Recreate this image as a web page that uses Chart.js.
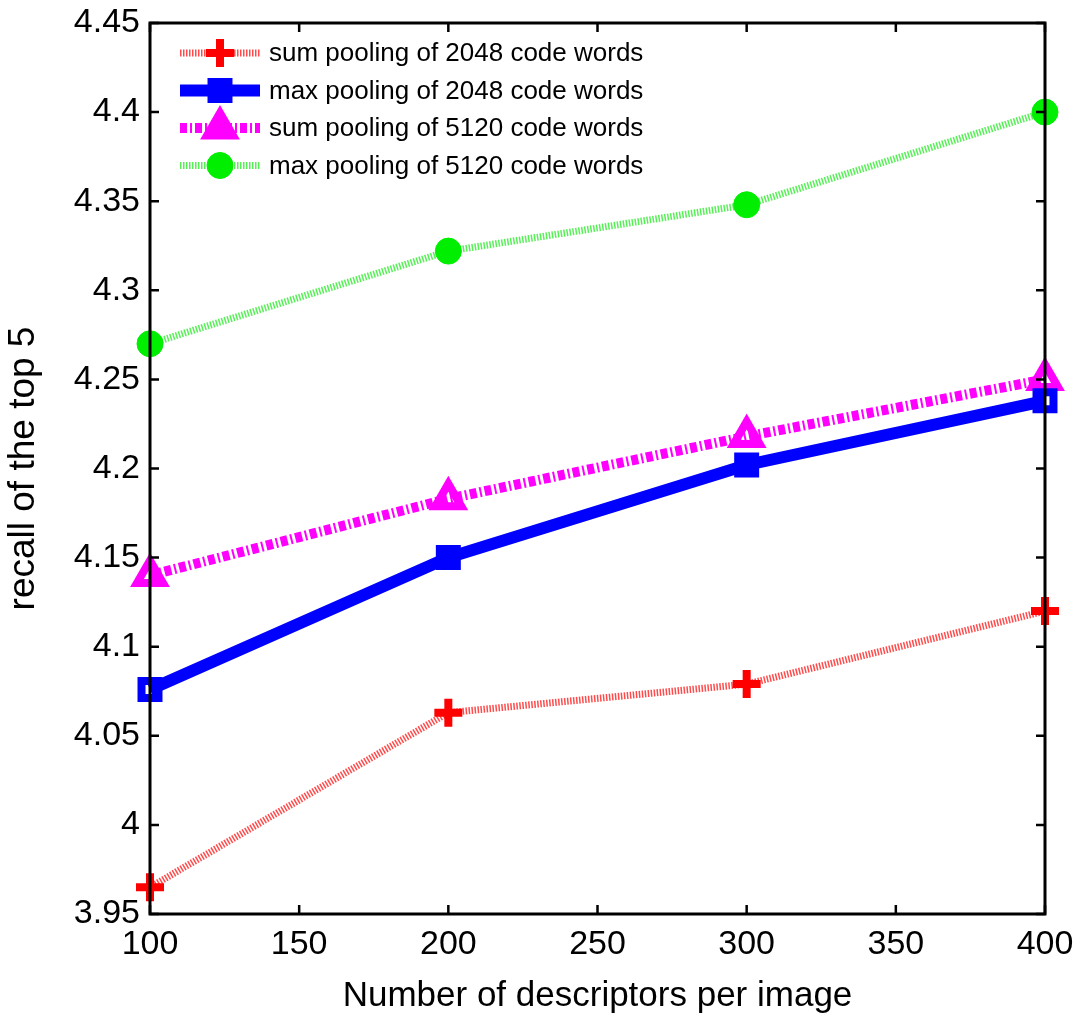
<!DOCTYPE html>
<html>
<head>
<meta charset="utf-8">
<script src="https://cdn.jsdelivr.net/npm/chart.js@4.4.0/dist/chart.umd.min.js"></script>
<style>
  html, body { margin: 0; padding: 0; background: #fff; }
  #wrap { width: 1074px; height: 1017px; }
</style>
</head>
<body>
<div id="wrap"><canvas id="chart" width="1074" height="1017"></canvas></div>
<script>
// values
const descriptors = [100, 200, 300, 400];
const sum2048 = [3.965, 4.063, 4.079, 4.120];
const max2048 = [4.076, 4.150, 4.202, 4.238];
const sum5120 = [4.140, 4.183, 4.218, 4.250];
const max5120 = [4.270, 4.322, 4.348, 4.400];
const seriesNames = [
    'sum pooling of 2048 code words',
    'max pooling of 2048 code words',
    'sum pooling of 5120 code words',
    'max pooling of 5120 code words'
];
const xTicks = [100, 150, 200, 250, 300, 350, 400];
const yTicks = [3.95, 4, 4.05, 4.1, 4.15, 4.2, 4.25, 4.3, 4.35, 4.4, 4.45];

const FONT = '"Liberation Sans", Arial, sans-serif';

function pts(ys) {
    return descriptors.map((d, i) => ({x: d, y: ys[i]}));
}

const styles = [
    {color: '#ff0000', line: 'rgba(255,30,30,0.8)', width: 7, dash: [1.5, 1.5], marker: 'cross', r: 14, bw: 8, fill: '#ff0000'},
    {color: '#0000ff', line: '#0000ff', width: 12, dash: [], marker: 'rect', r: 12, bw: 8, fill: 'rgba(255,255,255,0)'},
    {color: '#ff00ff', line: '#ff00ff', width: 10, dash: [7, 3, 2, 3], marker: 'triangle', r: 15, bw: 8, fill: 'rgba(255,255,255,0)'},
    {color: '#00ee00', line: 'rgba(30,235,30,0.75)', width: 7, dash: [1.5, 1.5], marker: 'circle', r: 13, bw: 1, fill: '#00ee00'}
];
const values = [sum2048, max2048, sum5120, max5120];

const datasets = values.map((v, i) => ({
    label: seriesNames[i],
    data: pts(v),
    borderColor: styles[i].line,
    borderWidth: styles[i].width,
    borderDash: styles[i].dash,
    tension: 0,
    clip: false,
    pointStyle: styles[i].marker,
    pointRadius: styles[i].r,
    pointBorderWidth: styles[i].bw,
    pointBorderColor: styles[i].color,
    pointBackgroundColor: styles[i].fill
}));

// axes box with inward ticks on all four sides, drawn above the lines
const boxPlugin = {
    id: 'box',
    afterDatasetsDraw(chart) {
        const {ctx, chartArea: a, scales: {x, y}} = chart;
        ctx.save();
        ctx.strokeStyle = '#000';
        ctx.lineWidth = 3;
        ctx.strokeRect(a.left, a.top, a.right - a.left, a.bottom - a.top);
        ctx.lineWidth = 2.5;
        ctx.beginPath();
        xTicks.forEach(v => {
            const px = x.getPixelForValue(v);
            ctx.moveTo(px, a.bottom); ctx.lineTo(px, a.bottom - 9);
            ctx.moveTo(px, a.top); ctx.lineTo(px, a.top + 9);
        });
        yTicks.forEach(v => {
            const py = y.getPixelForValue(v);
            ctx.moveTo(a.left, py); ctx.lineTo(a.left + 9, py);
            ctx.moveTo(a.right, py); ctx.lineTo(a.right - 9, py);
        });
        ctx.stroke();
        ctx.restore();
    }
};

// legend inside the axes: line sample + marker + text
const legendPlugin = {
    id: 'insideLegend',
    afterDraw(chart) {
        const {ctx, chartArea: a} = chart;
        ctx.save();
        chart.data.datasets.forEach((ds, i) => {
            const st = styles[i];
            const yc = a.top + 30 + i * 37.5;
            const x0 = a.left + 30, x1 = a.left + 110, xm = (x0 + x1) / 2;
            ctx.strokeStyle = st.line;
            ctx.lineWidth = st.width;
            ctx.setLineDash(st.dash);
            ctx.beginPath();
            ctx.moveTo(x0, yc); ctx.lineTo(x1, yc);
            ctx.stroke();
            ctx.setLineDash([]);
            ctx.strokeStyle = st.color;
            ctx.fillStyle = st.color;
            ctx.lineWidth = st.bw;
            Chart.helpers.drawPoint(ctx, {pointStyle: st.marker, radius: st.r, rotation: 0, borderWidth: st.bw}, xm, yc);
            ctx.fillStyle = '#000';
            ctx.font = '26px ' + FONT;
            ctx.textBaseline = 'middle';
            ctx.textAlign = 'left';
            ctx.fillText(ds.label, a.left + 119, yc + 1);
        });
        ctx.restore();
    }
};

new Chart(document.getElementById('chart'), {
    type: 'line',
    data: {datasets: datasets},
    options: {
        responsive: false,
        animation: false,
        events: [],
        layout: {padding: {top: 22, right: 29, left: 0, bottom: 0}},
        plugins: {legend: {display: false}, tooltip: {enabled: false}},
        scales: {
            x: {
                type: 'linear',
                min: 100,
                max: 400,
                afterBuildTicks: s => { s.ticks = xTicks.map(v => ({value: v})); },
                afterFit: s => { s.height = 103; s.paddingLeft = 0; s.paddingRight = 0; },
                grid: {display: false, drawTicks: false},
                border: {display: false},
                ticks: {color: '#000', font: {family: FONT, size: 34}, padding: 10, maxRotation: 0},
                title: {display: true, text: 'Number of descriptors per image', color: '#000',
                        font: {family: FONT, size: 35}, padding: {top: 0, bottom: 0}}
            },
            y: {
                type: 'linear',
                min: 3.95,
                max: 4.45,
                afterBuildTicks: s => { s.ticks = yTicks.map(v => ({value: v})); },
                afterFit: s => { s.width = 150; s.paddingTop = 0; s.paddingBottom = 0; },
                grid: {display: false, drawTicks: false},
                border: {display: false},
                ticks: {color: '#000', font: {family: FONT, size: 34}, padding: 10,
                        callback: v => String(+v.toFixed(2))},
                title: {display: true, text: 'recall of the top 5', color: '#000',
                        font: {family: FONT, size: 37}, padding: {top: 2, bottom: 0}}
            }
        }
    },
    plugins: [boxPlugin, legendPlugin]
});
</script>
</body>
</html>
